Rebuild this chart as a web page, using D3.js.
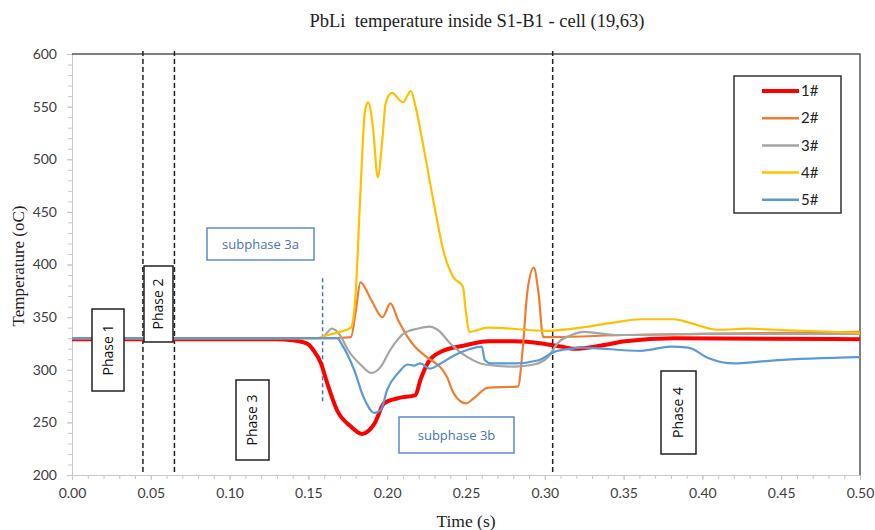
<!DOCTYPE html>
<html lang="en">
  <head>
    <meta charset="utf-8">
    <title>PbLi temperature</title>
    <script src="https://d3js.org/d3.v7.min.js"></script>
    <style>
      body { margin: 0; background: #fff; }
      .tick text { font: 14px Lato, sans-serif; fill: #404040; }
      .serif { font-family: "Liberation Serif", serif; fill: #222; white-space: pre; }
      .box text { font-family: "Open Sans", sans-serif; fill: #111; }
    </style>
  </head>
  <body>
    <div id="chart"></div>
    <script>
      "use strict"
      // series 1# .. 5#, time (s) and temperature (oC)
      var names = ['1#', '2#', '3#', '4#', '5#']
      var colors = ['#ff0000', '#ed7d31', '#a5a5a5', '#ffc000', '#5b9bd5']
      var t1 = [0, 0.13, 0.14, 0.149, 0.153, 0.158, 0.162, 0.168, 0.177, 0.184, 0.192, 0.198, 0.207, 0.218, 0.221, 0.226, 0.234, 0.249, 0.264, 0.281, 0.298, 0.310, 0.319, 0.336, 0.351, 0.382, 0.5]
      var v1 = [329, 329, 328, 325, 319, 306, 287, 262, 246, 239, 249, 268, 273, 276, 290, 307, 317, 323, 327, 327, 325, 322, 320, 323, 327, 330, 329]
      var t2 = [0, 0.165, 0.177, 0.180, 0.183, 0.190, 0.197, 0.202, 0.207, 0.213, 0.217, 0.226, 0.234, 0.238, 0.242, 0.250, 0.255, 0.264, 0.283, 0.286, 0.289, 0.293, 0.296, 0.299, 0.305, 0.35, 0.4, 0.5]
      var v2 = [330, 330, 331, 355, 383, 366, 350, 363, 347, 331, 323, 311, 302, 293, 278, 268, 273, 283, 284, 320, 375, 397, 373, 331, 331, 333, 334, 336]
      var t3 = [0, 0.158, 0.165, 0.170, 0.175, 0.183, 0.190, 0.196, 0.202, 0.211, 0.219, 0.227, 0.232, 0.240, 0.251, 0.262, 0.281, 0.293, 0.302, 0.308, 0.317, 0.325, 0.345, 0.4, 0.5]
      var v3 = [330, 330, 339, 333, 319, 305, 297, 303, 319, 335, 339, 341, 338, 325, 312, 305, 303, 305, 312, 325, 333, 336, 333, 334, 334]
      var t4 = [0, 0.155, 0.160, 0.170, 0.177, 0.180, 0.183, 0.186, 0.188, 0.191, 0.194, 0.197, 0.199, 0.203, 0.210, 0.215, 0.218, 0.223, 0.230, 0.236, 0.242, 0.248, 0.250, 0.252, 0.264, 0.302, 0.323, 0.344, 0.361, 0.382, 0.391, 0.410, 0.429, 0.446, 0.5]
      var v4 = [330, 330, 332, 336, 340, 373, 468, 547, 554, 530, 483, 520, 553, 563, 554, 565, 550, 512, 455, 411, 388, 379, 354, 336, 340, 337, 340, 345, 348, 348, 345, 338, 339, 338, 335]
      var t5 = [0, 0.168, 0.172, 0.179, 0.185, 0.192, 0.196, 0.200, 0.207, 0.213, 0.217, 0.221, 0.227, 0.234, 0.243, 0.251, 0.260, 0.262, 0.266, 0.281, 0.296, 0.306, 0.317, 0.323, 0.361, 0.380, 0.391, 0.404, 0.420, 0.446, 0.5]
      var v5 = [330, 330, 322, 300, 274, 259, 262, 281, 297, 305, 304, 306, 301, 306, 314, 319, 322, 309, 306, 306, 309, 317, 320, 321, 318, 322, 321, 311, 306, 309, 312]
      var times = [t1, t2, t3, t4, t5]
      var temps = [v1, v2, v3, v4, v5]
      var xTicks = [0, 0.05, 0.1, 0.15, 0.2, 0.25, 0.3, 0.35, 0.4, 0.45, 0.5]
      var yTicks = [200, 250, 300, 350, 400, 450, 500, 550, 600]
      var phaseLines = [0.045, 0.065, 0.305]

      var W = 875, H = 530
      var margin = {top: 54, right: 15, bottom: 55, left: 72},
          w = W - margin.left - margin.right,
          h = H - margin.top - margin.bottom

      var svg = d3.select('#chart').append('svg')
          .attr('width', W).attr('height', H)
      var g = svg.append('g')
          .attr('transform', 'translate(' + margin.left + ',' + margin.top + ')')

      var x = d3.scaleLinear().domain([0, 0.5]).range([0, w])
      var y = d3.scaleLinear().domain([200, 600]).range([h, 0])

      // minor ticks
      g.append('g').attr('transform', 'translate(0,' + h + ')')
        .call(d3.axisBottom(x).ticks(50).tickSize(4).tickFormat(''))
        .call(a => a.selectAll('line,path').attr('stroke', '#c8c8c8'))
      g.append('g')
        .call(d3.axisLeft(y).ticks(40).tickSize(4).tickFormat(''))
        .call(a => a.selectAll('line,path').attr('stroke', '#c8c8c8'))

      // axes with labels
      g.append('g').attr('transform', 'translate(0,' + h + ')')
        .call(d3.axisBottom(x).tickValues(xTicks).tickSize(5).tickPadding(8).tickFormat(d3.format('.2f')))
        .call(a => a.selectAll('line,path').attr('stroke', '#c8c8c8'))
      g.append('g')
        .call(d3.axisLeft(y).tickValues(yTicks).tickSize(5).tickPadding(10))
        .call(a => a.selectAll('line,path').attr('stroke', '#c8c8c8'))

      // frame top and right
      g.append('path')
        .attr('d', 'M0,0H' + w + 'V' + h)
        .attr('fill', 'none').attr('stroke', '#555').attr('stroke-width', 1.5)

      // phase dashed lines
      g.selectAll('.phase').data(phaseLines).enter().append('line')
        .attr('x1', d => x(d)).attr('x2', d => x(d))
        .attr('y1', -3).attr('y2', h)
        .attr('stroke', '#222').attr('stroke-width', 1.5)
        .attr('stroke-dasharray', '5,3')

      // subphase dotted line
      g.append('line')
        .attr('x1', x(0.159)).attr('x2', x(0.159))
        .attr('y1', y(387)).attr('y2', y(268))
        .attr('stroke', '#4472c4').attr('stroke-width', 1.5)
        .attr('stroke-dasharray', '4,3')

      // curves
      var line = d3.line()
        .x(d => x(d[0])).y(d => y(d[1]))
        .curve(d3.curveMonotoneX)
      names.forEach(function(n, i) {
        var pts = times[i].map((t, j) => [t, temps[i][j]])
        g.append('path')
          .datum(pts)
          .attr('d', line)
          .attr('fill', 'none')
          .attr('stroke', colors[i])
          .attr('stroke-width', i === 0 ? 4 : 2.2)
          .attr('stroke-linejoin', 'round')
      })

      // annotation boxes (drawn in pixels relative to svg)
      var boxes = [
        {label: 'Phase 1', x: 92, y: 309, w: 32, h: 82, rot: true},
        {label: 'Phase 2', x: 144, y: 266, w: 29, h: 76, rot: true},
        {label: 'Phase 3', x: 236, y: 380, w: 33, h: 80, rot: true},
        {label: 'Phase 4', x: 661, y: 371, w: 35, h: 83, rot: true},
        {label: 'subphase 3a', x: 207, y: 228, w: 107, h: 32, rot: false},
        {label: 'subphase 3b', x: 399, y: 417, w: 115, h: 36, rot: false}
      ]
      var bx = svg.selectAll('.box').data(boxes).enter().append('g').attr('class', 'box')
      bx.append('rect')
        .attr('x', d => d.x).attr('y', d => d.y)
        .attr('width', d => d.w).attr('height', d => d.h)
        .attr('fill', '#fff')
        .attr('stroke', d => d.rot ? '#222' : '#5b8bd0')
        .attr('stroke-width', 1.5)
      bx.append('text')
        .attr('transform', d => 'translate(' + (d.x + d.w / 2) + ',' + (d.y + d.h / 2) + ')' + (d.rot ? ' rotate(-90)' : ''))
        .attr('text-anchor', 'middle').attr('dy', '0.35em')
        .style('fill', d => d.rot ? '#111' : '#4a72b8')
        .style('font-size', d => d.rot ? '14px' : '13px')
        .text(d => d.label)

      // legend
      var lg = svg.append('g').attr('transform', 'translate(734,76)')
      lg.append('rect').attr('width', 107).attr('height', 137)
        .attr('fill', '#fff').attr('stroke', '#333').attr('stroke-width', 1.5)
      names.forEach(function(n, i) {
        var yy = 15 + i * 27.2
        lg.append('line').attr('x1', 28).attr('x2', 65).attr('y1', yy).attr('y2', yy)
          .attr('stroke', colors[i]).attr('stroke-width', i === 0 ? 4 : 2.5)
        lg.append('text').attr('x', 67).attr('y', yy).attr('dy', '0.35em')
          .style('font', '15px Lato, sans-serif').style('fill', '#222')
          .text(n)
      })

      // titles
      svg.append('text').attr('class', 'serif')
        .attr('x', 477).attr('y', 27).attr('text-anchor', 'middle')
        .style('font-size', '18.5px')
        .text('PbLi  temperature inside S1-B1 - cell (19,63)')
      svg.append('text').attr('class', 'serif')
        .attr('x', 466).attr('y', 527).attr('text-anchor', 'middle')
        .style('font-size', '17.5px')
        .text('Time (s)')
      svg.append('text').attr('class', 'serif')
        .attr('transform', 'translate(24,266) rotate(-90)')
        .attr('text-anchor', 'middle')
        .style('font-size', '17px')
        .text('Temperature (oC)')
    </script>
  </body>
</html>
